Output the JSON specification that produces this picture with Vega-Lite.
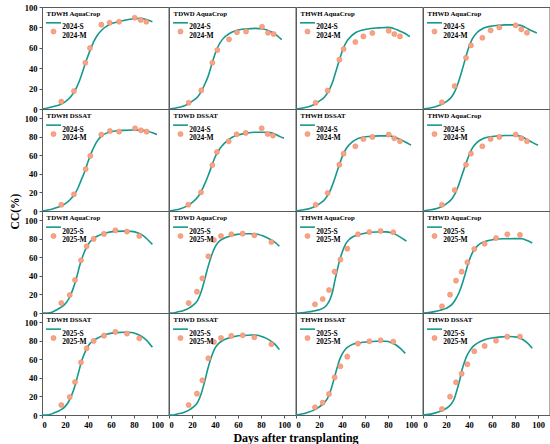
{
"$schema":"https://vega.github.io/schema/vega-lite/v6.json",
"background":"white",
"padding":{"left":8,"top":2,"right":2,"bottom":2},
"autosize":{"type":"pad"},
"bounds":"flush",
"spacing":0,
"columns":4,
"data":{"values":[
{"r":1,"c":1,"t":"T","name":"TDWH AquaCrop"},{"r":1,"c":2,"t":"T","name":"TDWD AquaCrop"},{"r":1,"c":3,"t":"T","name":"THWH AquaCrop"},{"r":1,"c":4,"t":"T","name":"THWD AquaCrop"},
{"r":2,"c":1,"t":"T","name":"TDWH DSSAT"},{"r":2,"c":2,"t":"T","name":"TDWD DSSAT"},{"r":2,"c":3,"t":"T","name":"THWH DSSAT"},{"r":2,"c":4,"t":"T","name":"THWD AquaCrop"},
{"r":3,"c":1,"t":"T","name":"TDWH AquaCrop"},{"r":3,"c":2,"t":"T","name":"TDWD AquaCrop"},{"r":3,"c":3,"t":"T","name":"THWH AquaCrop"},{"r":3,"c":4,"t":"T","name":"THWD AquaCrop"},
{"r":4,"c":1,"t":"T","name":"TDWH DSSAT"},{"r":4,"c":2,"t":"T","name":"TDWD DSSAT"},{"r":4,"c":3,"t":"T","name":"THWH DSSAT"},{"r":4,"c":4,"t":"T","name":"THWD DSSAT"},

{"r":1,"c":1,"t":"M","x":16.8,"y":7.2},{"r":1,"c":1,"t":"M","x":27.8,"y":17.6},{"r":1,"c":1,"t":"M","x":37.7,"y":45.4},{"r":1,"c":1,"t":"M","x":41.7,"y":59.8},{"r":1,"c":1,"t":"M","x":51.6,"y":82.7},{"r":1,"c":1,"t":"M","x":58.8,"y":84.6},{"r":1,"c":1,"t":"M","x":67,"y":85.6},{"r":1,"c":1,"t":"M","x":80.6,"y":89.5},{"r":1,"c":1,"t":"M","x":85.8,"y":87.3},{"r":1,"c":1,"t":"M","x":90.7,"y":85.6},
{"r":1,"c":2,"t":"M","x":17.1,"y":6.2},{"r":1,"c":2,"t":"M","x":28.1,"y":18.3},{"r":1,"c":2,"t":"M","x":37.7,"y":45.4},{"r":1,"c":2,"t":"M","x":42,"y":57.8},{"r":1,"c":2,"t":"M","x":52.2,"y":68.3},{"r":1,"c":2,"t":"M","x":59.1,"y":75.2},{"r":1,"c":2,"t":"M","x":67,"y":76.1},{"r":1,"c":2,"t":"M","x":80.9,"y":80.7},{"r":1,"c":2,"t":"M","x":86.1,"y":74.8},{"r":1,"c":2,"t":"M","x":91,"y":73.5},
{"r":1,"c":3,"t":"M","x":17.1,"y":6.2},{"r":1,"c":3,"t":"M","x":27.5,"y":18},{"r":1,"c":3,"t":"M","x":37.7,"y":48.4},{"r":1,"c":3,"t":"M","x":41.4,"y":58.8},{"r":1,"c":3,"t":"M","x":51.6,"y":65.7},{"r":1,"c":3,"t":"M","x":58.6,"y":71.2},{"r":1,"c":3,"t":"M","x":66.4,"y":74.5},{"r":1,"c":3,"t":"M","x":80.6,"y":76.8},{"r":1,"c":3,"t":"M","x":85.5,"y":73.5},{"r":1,"c":3,"t":"M","x":90.4,"y":71.2},
{"r":1,"c":4,"t":"M","x":16.5,"y":6.5},{"r":1,"c":4,"t":"M","x":27.5,"y":22.5},{"r":1,"c":4,"t":"M","x":37.4,"y":50.3},{"r":1,"c":4,"t":"M","x":41.7,"y":62.4},{"r":1,"c":4,"t":"M","x":51.6,"y":69.9},{"r":1,"c":4,"t":"M","x":58.8,"y":77.1},{"r":1,"c":4,"t":"M","x":66.4,"y":80},{"r":1,"c":4,"t":"M","x":80.6,"y":82},{"r":1,"c":4,"t":"M","x":85.5,"y":78.1},{"r":1,"c":4,"t":"M","x":90.4,"y":74.8},

{"r":2,"c":1,"t":"M","x":16.8,"y":6.8},{"r":2,"c":1,"t":"M","x":27.8,"y":18},{"r":2,"c":1,"t":"M","x":38,"y":45.3},{"r":2,"c":1,"t":"M","x":42,"y":59.4},{"r":2,"c":1,"t":"M","x":51.6,"y":82.4},{"r":2,"c":1,"t":"M","x":59.1,"y":86.3},{"r":2,"c":1,"t":"M","x":67,"y":85.6},{"r":2,"c":1,"t":"M","x":80.9,"y":89.2},{"r":2,"c":1,"t":"M","x":86.1,"y":87},{"r":2,"c":1,"t":"M","x":91,"y":85.6},
{"r":2,"c":2,"t":"M","x":16.8,"y":6.8},{"r":2,"c":2,"t":"M","x":27.8,"y":20.1},{"r":2,"c":2,"t":"M","x":37.7,"y":49.6},{"r":2,"c":2,"t":"M","x":41.7,"y":63.7},{"r":2,"c":2,"t":"M","x":51.9,"y":75.2},{"r":2,"c":2,"t":"M","x":58.8,"y":82.7},{"r":2,"c":2,"t":"M","x":66.7,"y":84.2},{"r":2,"c":2,"t":"M","x":80.6,"y":89.2},{"r":2,"c":2,"t":"M","x":85.8,"y":83.1},{"r":2,"c":2,"t":"M","x":90.4,"y":81.3},
{"r":2,"c":3,"t":"M","x":17.1,"y":6.8},{"r":2,"c":3,"t":"M","x":27.5,"y":19.4},{"r":2,"c":3,"t":"M","x":37.7,"y":50},{"r":2,"c":3,"t":"M","x":41.4,"y":61.9},{"r":2,"c":3,"t":"M","x":51.6,"y":69.8},{"r":2,"c":3,"t":"M","x":58.6,"y":77.7},{"r":2,"c":3,"t":"M","x":66.4,"y":79.9},{"r":2,"c":3,"t":"M","x":80.6,"y":82.4},{"r":2,"c":3,"t":"M","x":85.5,"y":78.4},{"r":2,"c":3,"t":"M","x":90.4,"y":75.2},
{"r":2,"c":4,"t":"M","x":16.5,"y":6.8},{"r":2,"c":4,"t":"M","x":27.5,"y":22.7},{"r":2,"c":4,"t":"M","x":37.4,"y":50},{"r":2,"c":4,"t":"M","x":41.7,"y":61.9},{"r":2,"c":4,"t":"M","x":51.6,"y":69.8},{"r":2,"c":4,"t":"M","x":58.8,"y":77.7},{"r":2,"c":4,"t":"M","x":66.4,"y":79.9},{"r":2,"c":4,"t":"M","x":80.6,"y":82.4},{"r":2,"c":4,"t":"M","x":85.5,"y":78.4},{"r":2,"c":4,"t":"M","x":90.4,"y":75.2},

{"r":3,"c":1,"t":"M","x":16.8,"y":10.8},{"r":3,"c":1,"t":"M","x":24.1,"y":19.4},{"r":3,"c":1,"t":"M","x":28.7,"y":35.6},{"r":3,"c":1,"t":"M","x":33.9,"y":56.8},{"r":3,"c":1,"t":"M","x":38.8,"y":71.9},{"r":3,"c":1,"t":"M","x":44.9,"y":79.9},{"r":3,"c":1,"t":"M","x":53.9,"y":85.3},{"r":3,"c":1,"t":"M","x":63.8,"y":89.2},{"r":3,"c":1,"t":"M","x":73.9,"y":87.8},{"r":3,"c":1,"t":"M","x":84.6,"y":83.1},
{"r":3,"c":2,"t":"M","x":17.1,"y":10.8},{"r":3,"c":2,"t":"M","x":24.3,"y":23},{"r":3,"c":2,"t":"M","x":29,"y":37.4},{"r":3,"c":2,"t":"M","x":34.2,"y":61.2},{"r":3,"c":2,"t":"M","x":39.1,"y":78.8},{"r":3,"c":2,"t":"M","x":45.2,"y":83.1},{"r":3,"c":2,"t":"M","x":54.2,"y":84.9},{"r":3,"c":2,"t":"M","x":64.1,"y":85.6},{"r":3,"c":2,"t":"M","x":74.2,"y":83.8},{"r":3,"c":2,"t":"M","x":89,"y":76.6},
{"r":3,"c":3,"t":"M","x":16.5,"y":9.4},{"r":3,"c":3,"t":"M","x":23.2,"y":15.1},{"r":3,"c":3,"t":"M","x":28.7,"y":24.8},{"r":3,"c":3,"t":"M","x":33.6,"y":44.6},{"r":3,"c":3,"t":"M","x":38.6,"y":57.6},{"r":3,"c":3,"t":"M","x":44.6,"y":69.4},{"r":3,"c":3,"t":"M","x":53.9,"y":84.9},{"r":3,"c":3,"t":"M","x":63.8,"y":87.4},{"r":3,"c":3,"t":"M","x":73.6,"y":88.5},{"r":3,"c":3,"t":"M","x":84.6,"y":87.1},
{"r":3,"c":4,"t":"M","x":16.5,"y":7.2},{"r":3,"c":4,"t":"M","x":23.5,"y":19.8},{"r":3,"c":4,"t":"M","x":28.7,"y":34.9},{"r":3,"c":4,"t":"M","x":33.6,"y":44.6},{"r":3,"c":4,"t":"M","x":38.6,"y":54.7},{"r":3,"c":4,"t":"M","x":44.6,"y":69.1},{"r":3,"c":4,"t":"M","x":53.6,"y":74.8},{"r":3,"c":4,"t":"M","x":63.5,"y":80.9},{"r":3,"c":4,"t":"M","x":73.3,"y":84.9},{"r":3,"c":4,"t":"M","x":84.3,"y":84.2},

{"r":4,"c":1,"t":"M","x":16.8,"y":10.8},{"r":4,"c":1,"t":"M","x":24.1,"y":19.4},{"r":4,"c":1,"t":"M","x":28.7,"y":35.6},{"r":4,"c":1,"t":"M","x":33.9,"y":56.8},{"r":4,"c":1,"t":"M","x":38.8,"y":71.9},{"r":4,"c":1,"t":"M","x":44.9,"y":79.9},{"r":4,"c":1,"t":"M","x":53.9,"y":85.6},{"r":4,"c":1,"t":"M","x":63.8,"y":89.6},{"r":4,"c":1,"t":"M","x":73.9,"y":87.8},{"r":4,"c":1,"t":"M","x":84.6,"y":82.7},
{"r":4,"c":2,"t":"M","x":17.1,"y":10.8},{"r":4,"c":2,"t":"M","x":24.3,"y":23},{"r":4,"c":2,"t":"M","x":29,"y":37.4},{"r":4,"c":2,"t":"M","x":34.2,"y":61.2},{"r":4,"c":2,"t":"M","x":39.1,"y":78.8},{"r":4,"c":2,"t":"M","x":45.2,"y":83.1},{"r":4,"c":2,"t":"M","x":54.2,"y":85.3},{"r":4,"c":2,"t":"M","x":64.1,"y":86},{"r":4,"c":2,"t":"M","x":74.2,"y":83.8},{"r":4,"c":2,"t":"M","x":89,"y":76.3},
{"r":4,"c":3,"t":"M","x":16.5,"y":8.3},{"r":4,"c":3,"t":"M","x":23.2,"y":13.3},{"r":4,"c":3,"t":"M","x":28.7,"y":22.7},{"r":4,"c":3,"t":"M","x":33.6,"y":40.6},{"r":4,"c":3,"t":"M","x":38.6,"y":52.5},{"r":4,"c":3,"t":"M","x":44.6,"y":62.9},{"r":4,"c":3,"t":"M","x":53.9,"y":77},{"r":4,"c":3,"t":"M","x":63.8,"y":79.5},{"r":4,"c":3,"t":"M","x":73.6,"y":80.6},{"r":4,"c":3,"t":"M","x":84.6,"y":79.1},
{"r":4,"c":4,"t":"M","x":16.5,"y":6.5},{"r":4,"c":4,"t":"M","x":23.5,"y":19.8},{"r":4,"c":4,"t":"M","x":28.7,"y":35.3},{"r":4,"c":4,"t":"M","x":33.6,"y":44.6},{"r":4,"c":4,"t":"M","x":38.6,"y":54.7},{"r":4,"c":4,"t":"M","x":44.6,"y":68.7},{"r":4,"c":4,"t":"M","x":53.6,"y":74.5},{"r":4,"c":4,"t":"M","x":63.5,"y":80.2},{"r":4,"c":4,"t":"M","x":73.3,"y":84.5},{"r":4,"c":4,"t":"M","x":84.3,"y":84.5},

{"r":1,"c":1,"t":"S","x":0,"y":0},{"r":1,"c":1,"t":"S","x":5,"y":1},{"r":1,"c":1,"t":"S","x":10,"y":2.5},{"r":1,"c":1,"t":"S","x":15,"y":4},{"r":1,"c":1,"t":"S","x":20,"y":7},{"r":1,"c":1,"t":"S","x":25,"y":12},{"r":1,"c":1,"t":"S","x":30,"y":21},{"r":1,"c":1,"t":"S","x":33,"y":29},{"r":1,"c":1,"t":"S","x":36,"y":39},{"r":1,"c":1,"t":"S","x":39,"y":49},{"r":1,"c":1,"t":"S","x":42,"y":58},{"r":1,"c":1,"t":"S","x":45,"y":66},{"r":1,"c":1,"t":"S","x":48,"y":72},{"r":1,"c":1,"t":"S","x":52,"y":77.5},{"r":1,"c":1,"t":"S","x":56,"y":81},{"r":1,"c":1,"t":"S","x":60,"y":83.5},{"r":1,"c":1,"t":"S","x":66,"y":85.5},{"r":1,"c":1,"t":"S","x":72,"y":87},{"r":1,"c":1,"t":"S","x":80,"y":88.5},{"r":1,"c":1,"t":"S","x":86,"y":89},{"r":1,"c":1,"t":"S","x":90,"y":88},{"r":1,"c":1,"t":"S","x":94,"y":86.5},{"r":1,"c":1,"t":"S","x":96,"y":85.5},
{"r":1,"c":2,"t":"S","x":0,"y":0},{"r":1,"c":2,"t":"S","x":5,"y":0.8},{"r":1,"c":2,"t":"S","x":10,"y":2},{"r":1,"c":2,"t":"S","x":15,"y":4},{"r":1,"c":2,"t":"S","x":20,"y":7.5},{"r":1,"c":2,"t":"S","x":25,"y":12},{"r":1,"c":2,"t":"S","x":28,"y":17},{"r":1,"c":2,"t":"S","x":31,"y":24},{"r":1,"c":2,"t":"S","x":34,"y":32},{"r":1,"c":2,"t":"S","x":37,"y":43},{"r":1,"c":2,"t":"S","x":40,"y":54},{"r":1,"c":2,"t":"S","x":43,"y":62},{"r":1,"c":2,"t":"S","x":46,"y":67.5},{"r":1,"c":2,"t":"S","x":50,"y":72},{"r":1,"c":2,"t":"S","x":55,"y":75.5},{"r":1,"c":2,"t":"S","x":60,"y":77.5},{"r":1,"c":2,"t":"S","x":67,"y":78.5},{"r":1,"c":2,"t":"S","x":75,"y":79},{"r":1,"c":2,"t":"S","x":82,"y":78.5},{"r":1,"c":2,"t":"S","x":86,"y":77},{"r":1,"c":2,"t":"S","x":90,"y":75},{"r":1,"c":2,"t":"S","x":94,"y":72},{"r":1,"c":2,"t":"S","x":98,"y":68},
{"r":1,"c":3,"t":"S","x":0,"y":0},{"r":1,"c":3,"t":"S","x":5,"y":0.8},{"r":1,"c":3,"t":"S","x":10,"y":2},{"r":1,"c":3,"t":"S","x":15,"y":4},{"r":1,"c":3,"t":"S","x":20,"y":7.5},{"r":1,"c":3,"t":"S","x":25,"y":12},{"r":1,"c":3,"t":"S","x":29,"y":19},{"r":1,"c":3,"t":"S","x":32,"y":27},{"r":1,"c":3,"t":"S","x":35,"y":38},{"r":1,"c":3,"t":"S","x":38,"y":49},{"r":1,"c":3,"t":"S","x":41,"y":59},{"r":1,"c":3,"t":"S","x":44,"y":66},{"r":1,"c":3,"t":"S","x":48,"y":71.5},{"r":1,"c":3,"t":"S","x":52,"y":75},{"r":1,"c":3,"t":"S","x":58,"y":77.5},{"r":1,"c":3,"t":"S","x":65,"y":79},{"r":1,"c":3,"t":"S","x":72,"y":79.5},{"r":1,"c":3,"t":"S","x":80,"y":80},{"r":1,"c":3,"t":"S","x":85,"y":79},{"r":1,"c":3,"t":"S","x":90,"y":76.5},{"r":1,"c":3,"t":"S","x":95,"y":74},{"r":1,"c":3,"t":"S","x":99,"y":71},
{"r":1,"c":4,"t":"S","x":0,"y":0},{"r":1,"c":4,"t":"S","x":5,"y":0.8},{"r":1,"c":4,"t":"S","x":10,"y":2},{"r":1,"c":4,"t":"S","x":15,"y":4},{"r":1,"c":4,"t":"S","x":20,"y":7},{"r":1,"c":4,"t":"S","x":25,"y":12},{"r":1,"c":4,"t":"S","x":28,"y":18},{"r":1,"c":4,"t":"S","x":31,"y":27},{"r":1,"c":4,"t":"S","x":34,"y":38},{"r":1,"c":4,"t":"S","x":37,"y":50},{"r":1,"c":4,"t":"S","x":40,"y":61},{"r":1,"c":4,"t":"S","x":43,"y":69},{"r":1,"c":4,"t":"S","x":47,"y":75},{"r":1,"c":4,"t":"S","x":52,"y":79},{"r":1,"c":4,"t":"S","x":58,"y":81},{"r":1,"c":4,"t":"S","x":65,"y":82},{"r":1,"c":4,"t":"S","x":72,"y":82.5},{"r":1,"c":4,"t":"S","x":80,"y":82.5},{"r":1,"c":4,"t":"S","x":85,"y":82},{"r":1,"c":4,"t":"S","x":89,"y":80},{"r":1,"c":4,"t":"S","x":94,"y":77},{"r":1,"c":4,"t":"S","x":99,"y":74.5},

{"r":2,"c":1,"t":"S","x":0,"y":0},{"r":2,"c":1,"t":"S","x":5,"y":1},{"r":2,"c":1,"t":"S","x":10,"y":2.5},{"r":2,"c":1,"t":"S","x":15,"y":4.5},{"r":2,"c":1,"t":"S","x":20,"y":7.6},{"r":2,"c":1,"t":"S","x":25,"y":13},{"r":2,"c":1,"t":"S","x":28,"y":17.5},{"r":2,"c":1,"t":"S","x":31,"y":24},{"r":2,"c":1,"t":"S","x":34,"y":33},{"r":2,"c":1,"t":"S","x":37,"y":42},{"r":2,"c":1,"t":"S","x":40,"y":53},{"r":2,"c":1,"t":"S","x":43,"y":63},{"r":2,"c":1,"t":"S","x":46,"y":71},{"r":2,"c":1,"t":"S","x":49,"y":77},{"r":2,"c":1,"t":"S","x":52,"y":81},{"r":2,"c":1,"t":"S","x":56,"y":84},{"r":2,"c":1,"t":"S","x":62,"y":86},{"r":2,"c":1,"t":"S","x":70,"y":87},{"r":2,"c":1,"t":"S","x":80,"y":87.3},{"r":2,"c":1,"t":"S","x":87,"y":87},{"r":2,"c":1,"t":"S","x":92,"y":86},{"r":2,"c":1,"t":"S","x":96,"y":84.5},{"r":2,"c":1,"t":"S","x":100,"y":82.4},
{"r":2,"c":2,"t":"S","x":0,"y":0},{"r":2,"c":2,"t":"S","x":5,"y":1},{"r":2,"c":2,"t":"S","x":10,"y":2.5},{"r":2,"c":2,"t":"S","x":15,"y":5},{"r":2,"c":2,"t":"S","x":20,"y":9},{"r":2,"c":2,"t":"S","x":25,"y":15},{"r":2,"c":2,"t":"S","x":28,"y":21},{"r":2,"c":2,"t":"S","x":31,"y":29},{"r":2,"c":2,"t":"S","x":34,"y":38},{"r":2,"c":2,"t":"S","x":37,"y":48},{"r":2,"c":2,"t":"S","x":40,"y":58},{"r":2,"c":2,"t":"S","x":43,"y":65},{"r":2,"c":2,"t":"S","x":46,"y":70},{"r":2,"c":2,"t":"S","x":50,"y":75},{"r":2,"c":2,"t":"S","x":55,"y":79.5},{"r":2,"c":2,"t":"S","x":60,"y":82},{"r":2,"c":2,"t":"S","x":67,"y":84},{"r":2,"c":2,"t":"S","x":75,"y":85},{"r":2,"c":2,"t":"S","x":82,"y":85},{"r":2,"c":2,"t":"S","x":88,"y":84.5},{"r":2,"c":2,"t":"S","x":92,"y":83},{"r":2,"c":2,"t":"S","x":96,"y":80.5},{"r":2,"c":2,"t":"S","x":100,"y":78.5},
{"r":2,"c":3,"t":"S","x":0,"y":0},{"r":2,"c":3,"t":"S","x":5,"y":1},{"r":2,"c":3,"t":"S","x":10,"y":2},{"r":2,"c":3,"t":"S","x":15,"y":4},{"r":2,"c":3,"t":"S","x":20,"y":7.5},{"r":2,"c":3,"t":"S","x":25,"y":12.5},{"r":2,"c":3,"t":"S","x":29,"y":20},{"r":2,"c":3,"t":"S","x":32,"y":29},{"r":2,"c":3,"t":"S","x":35,"y":40},{"r":2,"c":3,"t":"S","x":38,"y":51},{"r":2,"c":3,"t":"S","x":41,"y":61},{"r":2,"c":3,"t":"S","x":44,"y":68},{"r":2,"c":3,"t":"S","x":48,"y":73.5},{"r":2,"c":3,"t":"S","x":52,"y":77},{"r":2,"c":3,"t":"S","x":58,"y":79.5},{"r":2,"c":3,"t":"S","x":65,"y":80.5},{"r":2,"c":3,"t":"S","x":72,"y":81},{"r":2,"c":3,"t":"S","x":80,"y":81},{"r":2,"c":3,"t":"S","x":85,"y":80},{"r":2,"c":3,"t":"S","x":90,"y":77.5},{"r":2,"c":3,"t":"S","x":95,"y":74.5},{"r":2,"c":3,"t":"S","x":100,"y":71},
{"r":2,"c":4,"t":"S","x":0,"y":0},{"r":2,"c":4,"t":"S","x":5,"y":1},{"r":2,"c":4,"t":"S","x":10,"y":2},{"r":2,"c":4,"t":"S","x":15,"y":4},{"r":2,"c":4,"t":"S","x":20,"y":7.5},{"r":2,"c":4,"t":"S","x":25,"y":13},{"r":2,"c":4,"t":"S","x":28,"y":19},{"r":2,"c":4,"t":"S","x":31,"y":28},{"r":2,"c":4,"t":"S","x":34,"y":39},{"r":2,"c":4,"t":"S","x":37,"y":50},{"r":2,"c":4,"t":"S","x":40,"y":60},{"r":2,"c":4,"t":"S","x":43,"y":68},{"r":2,"c":4,"t":"S","x":47,"y":74},{"r":2,"c":4,"t":"S","x":52,"y":78},{"r":2,"c":4,"t":"S","x":58,"y":80},{"r":2,"c":4,"t":"S","x":65,"y":81},{"r":2,"c":4,"t":"S","x":72,"y":81.5},{"r":2,"c":4,"t":"S","x":80,"y":81.5},{"r":2,"c":4,"t":"S","x":85,"y":80.5},{"r":2,"c":4,"t":"S","x":90,"y":77.5},{"r":2,"c":4,"t":"S","x":95,"y":74},{"r":2,"c":4,"t":"S","x":100,"y":71},

{"r":3,"c":1,"t":"S","x":0,"y":0},{"r":3,"c":1,"t":"S","x":5,"y":0},{"r":3,"c":1,"t":"S","x":8,"y":0.5},{"r":3,"c":1,"t":"S","x":12,"y":3},{"r":3,"c":1,"t":"S","x":17,"y":6.5},{"r":3,"c":1,"t":"S","x":21,"y":11},{"r":3,"c":1,"t":"S","x":24,"y":17},{"r":3,"c":1,"t":"S","x":27,"y":26},{"r":3,"c":1,"t":"S","x":30,"y":38},{"r":3,"c":1,"t":"S","x":33,"y":52},{"r":3,"c":1,"t":"S","x":36,"y":63},{"r":3,"c":1,"t":"S","x":39,"y":71.5},{"r":3,"c":1,"t":"S","x":42,"y":77},{"r":3,"c":1,"t":"S","x":46,"y":81.5},{"r":3,"c":1,"t":"S","x":50,"y":84},{"r":3,"c":1,"t":"S","x":56,"y":86.5},{"r":3,"c":1,"t":"S","x":64,"y":88},{"r":3,"c":1,"t":"S","x":72,"y":88.3},{"r":3,"c":1,"t":"S","x":78,"y":88},{"r":3,"c":1,"t":"S","x":84,"y":86},{"r":3,"c":1,"t":"S","x":88,"y":83.5},{"r":3,"c":1,"t":"S","x":92,"y":79},{"r":3,"c":1,"t":"S","x":96,"y":74},
{"r":3,"c":2,"t":"S","x":0,"y":0},{"r":3,"c":2,"t":"S","x":4,"y":0},{"r":3,"c":2,"t":"S","x":7,"y":1},{"r":3,"c":2,"t":"S","x":12,"y":2.5},{"r":3,"c":2,"t":"S","x":17,"y":5},{"r":3,"c":2,"t":"S","x":21,"y":8.5},{"r":3,"c":2,"t":"S","x":25,"y":14},{"r":3,"c":2,"t":"S","x":28,"y":23},{"r":3,"c":2,"t":"S","x":31,"y":36},{"r":3,"c":2,"t":"S","x":34,"y":50},{"r":3,"c":2,"t":"S","x":37,"y":62},{"r":3,"c":2,"t":"S","x":40,"y":71},{"r":3,"c":2,"t":"S","x":43,"y":76.5},{"r":3,"c":2,"t":"S","x":47,"y":80},{"r":3,"c":2,"t":"S","x":52,"y":82.5},{"r":3,"c":2,"t":"S","x":58,"y":84.5},{"r":3,"c":2,"t":"S","x":65,"y":85.5},{"r":3,"c":2,"t":"S","x":72,"y":85.5},{"r":3,"c":2,"t":"S","x":77,"y":85},{"r":3,"c":2,"t":"S","x":82,"y":83},{"r":3,"c":2,"t":"S","x":87,"y":80},{"r":3,"c":2,"t":"S","x":92,"y":76.5},{"r":3,"c":2,"t":"S","x":96,"y":72},
{"r":3,"c":3,"t":"S","x":0,"y":0},{"r":3,"c":3,"t":"S","x":5,"y":0.3},{"r":3,"c":3,"t":"S","x":10,"y":1},{"r":3,"c":3,"t":"S","x":15,"y":2},{"r":3,"c":3,"t":"S","x":20,"y":3.5},{"r":3,"c":3,"t":"S","x":24,"y":5.5},{"r":3,"c":3,"t":"S","x":27,"y":9},{"r":3,"c":3,"t":"S","x":30,"y":16},{"r":3,"c":3,"t":"S","x":32,"y":24},{"r":3,"c":3,"t":"S","x":34,"y":36},{"r":3,"c":3,"t":"S","x":36,"y":47},{"r":3,"c":3,"t":"S","x":38,"y":57},{"r":3,"c":3,"t":"S","x":40,"y":65},{"r":3,"c":3,"t":"S","x":43,"y":74},{"r":3,"c":3,"t":"S","x":46,"y":79},{"r":3,"c":3,"t":"S","x":50,"y":82.5},{"r":3,"c":3,"t":"S","x":56,"y":85},{"r":3,"c":3,"t":"S","x":62,"y":86.5},{"r":3,"c":3,"t":"S","x":70,"y":87.3},{"r":3,"c":3,"t":"S","x":78,"y":87.5},{"r":3,"c":3,"t":"S","x":83,"y":86.5},{"r":3,"c":3,"t":"S","x":87,"y":84.5},{"r":3,"c":3,"t":"S","x":91,"y":81.5},{"r":3,"c":3,"t":"S","x":96,"y":77.5},
{"r":3,"c":4,"t":"S","x":0,"y":0},{"r":3,"c":4,"t":"S","x":5,"y":0.5},{"r":3,"c":4,"t":"S","x":10,"y":1.5},{"r":3,"c":4,"t":"S","x":15,"y":3},{"r":3,"c":4,"t":"S","x":20,"y":5},{"r":3,"c":4,"t":"S","x":25,"y":9},{"r":3,"c":4,"t":"S","x":28,"y":14},{"r":3,"c":4,"t":"S","x":31,"y":21},{"r":3,"c":4,"t":"S","x":34,"y":31},{"r":3,"c":4,"t":"S","x":36,"y":39},{"r":3,"c":4,"t":"S","x":38,"y":48},{"r":3,"c":4,"t":"S","x":40,"y":56},{"r":3,"c":4,"t":"S","x":43,"y":65},{"r":3,"c":4,"t":"S","x":46,"y":70.5},{"r":3,"c":4,"t":"S","x":50,"y":75},{"r":3,"c":4,"t":"S","x":55,"y":77.5},{"r":3,"c":4,"t":"S","x":62,"y":79.3},{"r":3,"c":4,"t":"S","x":70,"y":80},{"r":3,"c":4,"t":"S","x":80,"y":80.2},{"r":3,"c":4,"t":"S","x":86,"y":80},{"r":3,"c":4,"t":"S","x":90,"y":78.5},{"r":3,"c":4,"t":"S","x":95,"y":75.5},

{"r":4,"c":1,"t":"S","x":0,"y":0},{"r":4,"c":1,"t":"S","x":4,"y":0},{"r":4,"c":1,"t":"S","x":7,"y":0.5},{"r":4,"c":1,"t":"S","x":10,"y":2},{"r":4,"c":1,"t":"S","x":14,"y":4},{"r":4,"c":1,"t":"S","x":17,"y":6},{"r":4,"c":1,"t":"S","x":20,"y":9},{"r":4,"c":1,"t":"S","x":23,"y":14},{"r":4,"c":1,"t":"S","x":26,"y":22},{"r":4,"c":1,"t":"S","x":29,"y":33},{"r":4,"c":1,"t":"S","x":32,"y":47},{"r":4,"c":1,"t":"S","x":35,"y":60},{"r":4,"c":1,"t":"S","x":38,"y":69.5},{"r":4,"c":1,"t":"S","x":41,"y":76},{"r":4,"c":1,"t":"S","x":45,"y":80.5},{"r":4,"c":1,"t":"S","x":50,"y":84},{"r":4,"c":1,"t":"S","x":56,"y":87},{"r":4,"c":1,"t":"S","x":64,"y":88.8},{"r":4,"c":1,"t":"S","x":72,"y":89.3},{"r":4,"c":1,"t":"S","x":78,"y":89},{"r":4,"c":1,"t":"S","x":83,"y":87},{"r":4,"c":1,"t":"S","x":87,"y":84.5},{"r":4,"c":1,"t":"S","x":91,"y":80.5},{"r":4,"c":1,"t":"S","x":96,"y":73},
{"r":4,"c":2,"t":"S","x":0,"y":0},{"r":4,"c":2,"t":"S","x":4,"y":0},{"r":4,"c":2,"t":"S","x":7,"y":1},{"r":4,"c":2,"t":"S","x":12,"y":2.5},{"r":4,"c":2,"t":"S","x":17,"y":5},{"r":4,"c":2,"t":"S","x":21,"y":8.5},{"r":4,"c":2,"t":"S","x":25,"y":14},{"r":4,"c":2,"t":"S","x":28,"y":23},{"r":4,"c":2,"t":"S","x":31,"y":36},{"r":4,"c":2,"t":"S","x":34,"y":51},{"r":4,"c":2,"t":"S","x":37,"y":63},{"r":4,"c":2,"t":"S","x":40,"y":72},{"r":4,"c":2,"t":"S","x":43,"y":77},{"r":4,"c":2,"t":"S","x":47,"y":80.5},{"r":4,"c":2,"t":"S","x":52,"y":83},{"r":4,"c":2,"t":"S","x":58,"y":85},{"r":4,"c":2,"t":"S","x":65,"y":85.8},{"r":4,"c":2,"t":"S","x":72,"y":86.2},{"r":4,"c":2,"t":"S","x":77,"y":86},{"r":4,"c":2,"t":"S","x":82,"y":84},{"r":4,"c":2,"t":"S","x":87,"y":81},{"r":4,"c":2,"t":"S","x":92,"y":76.5},{"r":4,"c":2,"t":"S","x":96,"y":70.5},
{"r":4,"c":3,"t":"S","x":0,"y":0},{"r":4,"c":3,"t":"S","x":5,"y":1},{"r":4,"c":3,"t":"S","x":10,"y":2.7},{"r":4,"c":3,"t":"S","x":15,"y":5},{"r":4,"c":3,"t":"S","x":20,"y":8.5},{"r":4,"c":3,"t":"S","x":24,"y":12.5},{"r":4,"c":3,"t":"S","x":27,"y":17},{"r":4,"c":3,"t":"S","x":30,"y":26},{"r":4,"c":3,"t":"S","x":32,"y":34},{"r":4,"c":3,"t":"S","x":34,"y":43},{"r":4,"c":3,"t":"S","x":36,"y":52},{"r":4,"c":3,"t":"S","x":38,"y":60},{"r":4,"c":3,"t":"S","x":40,"y":65.5},{"r":4,"c":3,"t":"S","x":43,"y":71},{"r":4,"c":3,"t":"S","x":46,"y":74},{"r":4,"c":3,"t":"S","x":50,"y":76.5},{"r":4,"c":3,"t":"S","x":56,"y":78},{"r":4,"c":3,"t":"S","x":62,"y":78.8},{"r":4,"c":3,"t":"S","x":70,"y":79.5},{"r":4,"c":3,"t":"S","x":78,"y":79.5},{"r":4,"c":3,"t":"S","x":83,"y":78},{"r":4,"c":3,"t":"S","x":87,"y":75.5},{"r":4,"c":3,"t":"S","x":91,"y":71.5},{"r":4,"c":3,"t":"S","x":95,"y":66.5},
{"r":4,"c":4,"t":"S","x":0,"y":0},{"r":4,"c":4,"t":"S","x":5,"y":0.7},{"r":4,"c":4,"t":"S","x":10,"y":2},{"r":4,"c":4,"t":"S","x":15,"y":4},{"r":4,"c":4,"t":"S","x":20,"y":7},{"r":4,"c":4,"t":"S","x":24,"y":11},{"r":4,"c":4,"t":"S","x":27,"y":17},{"r":4,"c":4,"t":"S","x":30,"y":29},{"r":4,"c":4,"t":"S","x":32,"y":38},{"r":4,"c":4,"t":"S","x":34,"y":49},{"r":4,"c":4,"t":"S","x":36,"y":57},{"r":4,"c":4,"t":"S","x":38,"y":63.5},{"r":4,"c":4,"t":"S","x":41,"y":70},{"r":4,"c":4,"t":"S","x":44,"y":74.5},{"r":4,"c":4,"t":"S","x":48,"y":78},{"r":4,"c":4,"t":"S","x":53,"y":81},{"r":4,"c":4,"t":"S","x":60,"y":83},{"r":4,"c":4,"t":"S","x":68,"y":84.3},{"r":4,"c":4,"t":"S","x":75,"y":84.6},{"r":4,"c":4,"t":"S","x":82,"y":84},{"r":4,"c":4,"t":"S","x":86,"y":82},{"r":4,"c":4,"t":"S","x":90,"y":78.5},{"r":4,"c":4,"t":"S","x":95,"y":72}
]},
"concat":[
{"transform":[{"filter":"datum.r==1 && datum.c==1"}],"width":126.5,"height":102,"layer":[
 {"transform":[{"filter":"datum.t=='S'"}],"mark":"line","encoding":{"x":{"field":"x","type":"quantitative","scale":{"domain":[0,110],"nice":false},"axis":null},"y":{"field":"y","type":"quantitative","scale":{"domain":[0,100],"nice":false},"axis":{"title":null,"values":[0,20,40,60,80,100]}}}},
 {"transform":[{"filter":"datum.t=='M'"}],"mark":"circle","encoding":{"x":{"field":"x","type":"quantitative","axis":null},"y":{"field":"y","type":"quantitative","axis":{"title":null,"values":[0,20,40,60,80,100]}}}},
 {"transform":[{"filter":"datum.t=='T'"}],"mark":{"type":"text","fontSize":6.8},"encoding":{"x":{"datum":4,"axis":null},"y":{"datum":93,"axis":{"title":null,"values":[0,20,40,60,80,100]}},"text":{"field":"name"}}},
 {"transform":[{"filter":"datum.t=='T'"}],"mark":"rule","encoding":{"x":{"datum":3.5,"axis":null},"x2":{"datum":16.5},"y":{"datum":84.5,"axis":{"title":null,"values":[0,20,40,60,80,100]}}}},
 {"transform":[{"filter":"datum.t=='T'"}],"mark":"circle","encoding":{"x":{"datum":10,"axis":null},"y":{"datum":76,"axis":{"title":null,"values":[0,20,40,60,80,100]}}}},
 {"transform":[{"filter":"datum.t=='T'"}],"mark":{"type":"text","text":["2024-S","2024-M"],"lineHeight":8.7},"encoding":{"x":{"datum":17.5,"axis":null},"y":{"datum":80.25,"axis":{"title":null,"values":[0,20,40,60,80,100]}}}}
]},
{"transform":[{"filter":"datum.r==1 && datum.c==2"}],"width":126.5,"height":102,"layer":[
 {"transform":[{"filter":"datum.t=='S'"}],"mark":"line","encoding":{"x":{"field":"x","type":"quantitative","scale":{"domain":[0,110],"nice":false},"axis":null},"y":{"field":"y","type":"quantitative","scale":{"domain":[0,100],"nice":false},"axis":null}}},
 {"transform":[{"filter":"datum.t=='M'"}],"mark":"circle","encoding":{"x":{"field":"x","type":"quantitative","axis":null},"y":{"field":"y","type":"quantitative","axis":null}}},
 {"transform":[{"filter":"datum.t=='T'"}],"mark":{"type":"text","fontSize":6.8},"encoding":{"x":{"datum":4,"axis":null},"y":{"datum":93,"axis":null},"text":{"field":"name"}}},
 {"transform":[{"filter":"datum.t=='T'"}],"mark":"rule","encoding":{"x":{"datum":3.5,"axis":null},"x2":{"datum":16.5},"y":{"datum":84.5,"axis":null}}},
 {"transform":[{"filter":"datum.t=='T'"}],"mark":"circle","encoding":{"x":{"datum":10,"axis":null},"y":{"datum":76,"axis":null}}},
 {"transform":[{"filter":"datum.t=='T'"}],"mark":{"type":"text","text":["2024-S","2024-M"],"lineHeight":8.7},"encoding":{"x":{"datum":17.5,"axis":null},"y":{"datum":80.25,"axis":null}}}
]},
{"transform":[{"filter":"datum.r==1 && datum.c==3"}],"width":126.5,"height":102,"layer":[
 {"transform":[{"filter":"datum.t=='S'"}],"mark":"line","encoding":{"x":{"field":"x","type":"quantitative","scale":{"domain":[0,110],"nice":false},"axis":null},"y":{"field":"y","type":"quantitative","scale":{"domain":[0,100],"nice":false},"axis":null}}},
 {"transform":[{"filter":"datum.t=='M'"}],"mark":"circle","encoding":{"x":{"field":"x","type":"quantitative","axis":null},"y":{"field":"y","type":"quantitative","axis":null}}},
 {"transform":[{"filter":"datum.t=='T'"}],"mark":{"type":"text","fontSize":6.8},"encoding":{"x":{"datum":4,"axis":null},"y":{"datum":93,"axis":null},"text":{"field":"name"}}},
 {"transform":[{"filter":"datum.t=='T'"}],"mark":"rule","encoding":{"x":{"datum":3.5,"axis":null},"x2":{"datum":16.5},"y":{"datum":84.5,"axis":null}}},
 {"transform":[{"filter":"datum.t=='T'"}],"mark":"circle","encoding":{"x":{"datum":10,"axis":null},"y":{"datum":76,"axis":null}}},
 {"transform":[{"filter":"datum.t=='T'"}],"mark":{"type":"text","text":["2024-S","2024-M"],"lineHeight":8.7},"encoding":{"x":{"datum":17.5,"axis":null},"y":{"datum":80.25,"axis":null}}}
]},
{"transform":[{"filter":"datum.r==1 && datum.c==4"}],"width":126.5,"height":102,"layer":[
 {"transform":[{"filter":"datum.t=='S'"}],"mark":"line","encoding":{"x":{"field":"x","type":"quantitative","scale":{"domain":[0,110],"nice":false},"axis":null},"y":{"field":"y","type":"quantitative","scale":{"domain":[0,100],"nice":false},"axis":null}}},
 {"transform":[{"filter":"datum.t=='M'"}],"mark":"circle","encoding":{"x":{"field":"x","type":"quantitative","axis":null},"y":{"field":"y","type":"quantitative","axis":null}}},
 {"transform":[{"filter":"datum.t=='T'"}],"mark":{"type":"text","fontSize":6.8},"encoding":{"x":{"datum":4,"axis":null},"y":{"datum":93,"axis":null},"text":{"field":"name"}}},
 {"transform":[{"filter":"datum.t=='T'"}],"mark":"rule","encoding":{"x":{"datum":3.5,"axis":null},"x2":{"datum":16.5},"y":{"datum":84.5,"axis":null}}},
 {"transform":[{"filter":"datum.t=='T'"}],"mark":"circle","encoding":{"x":{"datum":10,"axis":null},"y":{"datum":76,"axis":null}}},
 {"transform":[{"filter":"datum.t=='T'"}],"mark":{"type":"text","text":["2024-S","2024-M"],"lineHeight":8.7},"encoding":{"x":{"datum":17.5,"axis":null},"y":{"datum":80.25,"axis":null}}}
]},
{"transform":[{"filter":"datum.r==2 && datum.c==1"}],"width":126.5,"height":102,"layer":[
 {"transform":[{"filter":"datum.t=='S'"}],"mark":"line","encoding":{"x":{"field":"x","type":"quantitative","scale":{"domain":[0,110],"nice":false},"axis":null},"y":{"field":"y","type":"quantitative","scale":{"domain":[0,110],"nice":false},"axis":{"title":"CC(%)","titleY":102,"values":[0,20,40,60,80,100]}}}},
 {"transform":[{"filter":"datum.t=='M'"}],"mark":"circle","encoding":{"x":{"field":"x","type":"quantitative","axis":null},"y":{"field":"y","type":"quantitative","axis":{"title":"CC(%)","titleY":102,"values":[0,20,40,60,80,100]}}}},
 {"transform":[{"filter":"datum.t=='T'"}],"mark":{"type":"text","fontSize":6.8},"encoding":{"x":{"datum":4,"axis":null},"y":{"datum":102.5,"axis":{"title":"CC(%)","titleY":102,"values":[0,20,40,60,80,100]}},"text":{"field":"name"}}},
 {"transform":[{"filter":"datum.t=='T'"}],"mark":"rule","encoding":{"x":{"datum":3.5,"axis":null},"x2":{"datum":16.5},"y":{"datum":92.6,"axis":{"title":"CC(%)","titleY":102,"values":[0,20,40,60,80,100]}}}},
 {"transform":[{"filter":"datum.t=='T'"}],"mark":"circle","encoding":{"x":{"datum":10,"axis":null},"y":{"datum":83,"axis":{"title":"CC(%)","titleY":102,"values":[0,20,40,60,80,100]}}}},
 {"transform":[{"filter":"datum.t=='T'"}],"mark":{"type":"text","text":["2024-S","2024-M"],"lineHeight":8.9},"encoding":{"x":{"datum":17.5,"axis":null},"y":{"datum":87.8,"axis":{"title":"CC(%)","titleY":102,"values":[0,20,40,60,80,100]}}}}
]},
{"transform":[{"filter":"datum.r==2 && datum.c==2"}],"width":126.5,"height":102,"layer":[
 {"transform":[{"filter":"datum.t=='S'"}],"mark":"line","encoding":{"x":{"field":"x","type":"quantitative","scale":{"domain":[0,110],"nice":false},"axis":null},"y":{"field":"y","type":"quantitative","scale":{"domain":[0,110],"nice":false},"axis":null}}},
 {"transform":[{"filter":"datum.t=='M'"}],"mark":"circle","encoding":{"x":{"field":"x","type":"quantitative","axis":null},"y":{"field":"y","type":"quantitative","axis":null}}},
 {"transform":[{"filter":"datum.t=='T'"}],"mark":{"type":"text","fontSize":6.8},"encoding":{"x":{"datum":4,"axis":null},"y":{"datum":102.5,"axis":null},"text":{"field":"name"}}},
 {"transform":[{"filter":"datum.t=='T'"}],"mark":"rule","encoding":{"x":{"datum":3.5,"axis":null},"x2":{"datum":16.5},"y":{"datum":92.6,"axis":null}}},
 {"transform":[{"filter":"datum.t=='T'"}],"mark":"circle","encoding":{"x":{"datum":10,"axis":null},"y":{"datum":83,"axis":null}}},
 {"transform":[{"filter":"datum.t=='T'"}],"mark":{"type":"text","text":["2024-S","2024-M"],"lineHeight":8.9},"encoding":{"x":{"datum":17.5,"axis":null},"y":{"datum":87.8,"axis":null}}}
]},
{"transform":[{"filter":"datum.r==2 && datum.c==3"}],"width":126.5,"height":102,"layer":[
 {"transform":[{"filter":"datum.t=='S'"}],"mark":"line","encoding":{"x":{"field":"x","type":"quantitative","scale":{"domain":[0,110],"nice":false},"axis":null},"y":{"field":"y","type":"quantitative","scale":{"domain":[0,110],"nice":false},"axis":null}}},
 {"transform":[{"filter":"datum.t=='M'"}],"mark":"circle","encoding":{"x":{"field":"x","type":"quantitative","axis":null},"y":{"field":"y","type":"quantitative","axis":null}}},
 {"transform":[{"filter":"datum.t=='T'"}],"mark":{"type":"text","fontSize":6.8},"encoding":{"x":{"datum":4,"axis":null},"y":{"datum":102.5,"axis":null},"text":{"field":"name"}}},
 {"transform":[{"filter":"datum.t=='T'"}],"mark":"rule","encoding":{"x":{"datum":3.5,"axis":null},"x2":{"datum":16.5},"y":{"datum":92.6,"axis":null}}},
 {"transform":[{"filter":"datum.t=='T'"}],"mark":"circle","encoding":{"x":{"datum":10,"axis":null},"y":{"datum":83,"axis":null}}},
 {"transform":[{"filter":"datum.t=='T'"}],"mark":{"type":"text","text":["2024-S","2024-M"],"lineHeight":8.9},"encoding":{"x":{"datum":17.5,"axis":null},"y":{"datum":87.8,"axis":null}}}
]},
{"transform":[{"filter":"datum.r==2 && datum.c==4"}],"width":126.5,"height":102,"layer":[
 {"transform":[{"filter":"datum.t=='S'"}],"mark":"line","encoding":{"x":{"field":"x","type":"quantitative","scale":{"domain":[0,110],"nice":false},"axis":null},"y":{"field":"y","type":"quantitative","scale":{"domain":[0,110],"nice":false},"axis":null}}},
 {"transform":[{"filter":"datum.t=='M'"}],"mark":"circle","encoding":{"x":{"field":"x","type":"quantitative","axis":null},"y":{"field":"y","type":"quantitative","axis":null}}},
 {"transform":[{"filter":"datum.t=='T'"}],"mark":{"type":"text","fontSize":6.8},"encoding":{"x":{"datum":4,"axis":null},"y":{"datum":102.5,"axis":null},"text":{"field":"name"}}},
 {"transform":[{"filter":"datum.t=='T'"}],"mark":"rule","encoding":{"x":{"datum":3.5,"axis":null},"x2":{"datum":16.5},"y":{"datum":92.6,"axis":null}}},
 {"transform":[{"filter":"datum.t=='T'"}],"mark":"circle","encoding":{"x":{"datum":10,"axis":null},"y":{"datum":83,"axis":null}}},
 {"transform":[{"filter":"datum.t=='T'"}],"mark":{"type":"text","text":["2024-S","2024-M"],"lineHeight":8.9},"encoding":{"x":{"datum":17.5,"axis":null},"y":{"datum":87.8,"axis":null}}}
]},
{"transform":[{"filter":"datum.r==3 && datum.c==1"}],"width":126.5,"height":102,"layer":[
 {"transform":[{"filter":"datum.t=='S'"}],"mark":"line","encoding":{"x":{"field":"x","type":"quantitative","scale":{"domain":[0,110],"nice":false},"axis":null},"y":{"field":"y","type":"quantitative","scale":{"domain":[0,110],"nice":false},"axis":{"title":null,"values":[0,20,40,60,80,100]}}}},
 {"transform":[{"filter":"datum.t=='M'"}],"mark":"circle","encoding":{"x":{"field":"x","type":"quantitative","axis":null},"y":{"field":"y","type":"quantitative","axis":{"title":null,"values":[0,20,40,60,80,100]}}}},
 {"transform":[{"filter":"datum.t=='T'"}],"mark":{"type":"text","fontSize":6.8},"encoding":{"x":{"datum":4,"axis":null},"y":{"datum":102.5,"axis":{"title":null,"values":[0,20,40,60,80,100]}},"text":{"field":"name"}}},
 {"transform":[{"filter":"datum.t=='T'"}],"mark":"rule","encoding":{"x":{"datum":3.5,"axis":null},"x2":{"datum":16.5},"y":{"datum":92.6,"axis":{"title":null,"values":[0,20,40,60,80,100]}}}},
 {"transform":[{"filter":"datum.t=='T'"}],"mark":"circle","encoding":{"x":{"datum":10,"axis":null},"y":{"datum":83,"axis":{"title":null,"values":[0,20,40,60,80,100]}}}},
 {"transform":[{"filter":"datum.t=='T'"}],"mark":{"type":"text","text":["2025-S","2025-M"],"lineHeight":8.9},"encoding":{"x":{"datum":17.5,"axis":null},"y":{"datum":87.8,"axis":{"title":null,"values":[0,20,40,60,80,100]}}}}
]},
{"transform":[{"filter":"datum.r==3 && datum.c==2"}],"width":126.5,"height":102,"layer":[
 {"transform":[{"filter":"datum.t=='S'"}],"mark":"line","encoding":{"x":{"field":"x","type":"quantitative","scale":{"domain":[0,110],"nice":false},"axis":null},"y":{"field":"y","type":"quantitative","scale":{"domain":[0,110],"nice":false},"axis":null}}},
 {"transform":[{"filter":"datum.t=='M'"}],"mark":"circle","encoding":{"x":{"field":"x","type":"quantitative","axis":null},"y":{"field":"y","type":"quantitative","axis":null}}},
 {"transform":[{"filter":"datum.t=='T'"}],"mark":{"type":"text","fontSize":6.8},"encoding":{"x":{"datum":4,"axis":null},"y":{"datum":102.5,"axis":null},"text":{"field":"name"}}},
 {"transform":[{"filter":"datum.t=='T'"}],"mark":"rule","encoding":{"x":{"datum":3.5,"axis":null},"x2":{"datum":16.5},"y":{"datum":92.6,"axis":null}}},
 {"transform":[{"filter":"datum.t=='T'"}],"mark":"circle","encoding":{"x":{"datum":10,"axis":null},"y":{"datum":83,"axis":null}}},
 {"transform":[{"filter":"datum.t=='T'"}],"mark":{"type":"text","text":["2025-S","2025-M"],"lineHeight":8.9},"encoding":{"x":{"datum":17.5,"axis":null},"y":{"datum":87.8,"axis":null}}}
]},
{"transform":[{"filter":"datum.r==3 && datum.c==3"}],"width":126.5,"height":102,"layer":[
 {"transform":[{"filter":"datum.t=='S'"}],"mark":"line","encoding":{"x":{"field":"x","type":"quantitative","scale":{"domain":[0,110],"nice":false},"axis":null},"y":{"field":"y","type":"quantitative","scale":{"domain":[0,110],"nice":false},"axis":null}}},
 {"transform":[{"filter":"datum.t=='M'"}],"mark":"circle","encoding":{"x":{"field":"x","type":"quantitative","axis":null},"y":{"field":"y","type":"quantitative","axis":null}}},
 {"transform":[{"filter":"datum.t=='T'"}],"mark":{"type":"text","fontSize":6.8},"encoding":{"x":{"datum":4,"axis":null},"y":{"datum":102.5,"axis":null},"text":{"field":"name"}}},
 {"transform":[{"filter":"datum.t=='T'"}],"mark":"rule","encoding":{"x":{"datum":3.5,"axis":null},"x2":{"datum":16.5},"y":{"datum":92.6,"axis":null}}},
 {"transform":[{"filter":"datum.t=='T'"}],"mark":"circle","encoding":{"x":{"datum":10,"axis":null},"y":{"datum":83,"axis":null}}},
 {"transform":[{"filter":"datum.t=='T'"}],"mark":{"type":"text","text":["2025-S","2025-M"],"lineHeight":8.9},"encoding":{"x":{"datum":17.5,"axis":null},"y":{"datum":87.8,"axis":null}}}
]},
{"transform":[{"filter":"datum.r==3 && datum.c==4"}],"width":126.5,"height":102,"layer":[
 {"transform":[{"filter":"datum.t=='S'"}],"mark":"line","encoding":{"x":{"field":"x","type":"quantitative","scale":{"domain":[0,110],"nice":false},"axis":null},"y":{"field":"y","type":"quantitative","scale":{"domain":[0,110],"nice":false},"axis":null}}},
 {"transform":[{"filter":"datum.t=='M'"}],"mark":"circle","encoding":{"x":{"field":"x","type":"quantitative","axis":null},"y":{"field":"y","type":"quantitative","axis":null}}},
 {"transform":[{"filter":"datum.t=='T'"}],"mark":{"type":"text","fontSize":6.8},"encoding":{"x":{"datum":4,"axis":null},"y":{"datum":102.5,"axis":null},"text":{"field":"name"}}},
 {"transform":[{"filter":"datum.t=='T'"}],"mark":"rule","encoding":{"x":{"datum":3.5,"axis":null},"x2":{"datum":16.5},"y":{"datum":92.6,"axis":null}}},
 {"transform":[{"filter":"datum.t=='T'"}],"mark":"circle","encoding":{"x":{"datum":10,"axis":null},"y":{"datum":83,"axis":null}}},
 {"transform":[{"filter":"datum.t=='T'"}],"mark":{"type":"text","text":["2025-S","2025-M"],"lineHeight":8.9},"encoding":{"x":{"datum":17.5,"axis":null},"y":{"datum":87.8,"axis":null}}}
]},
{"transform":[{"filter":"datum.r==4 && datum.c==1"}],"width":126.5,"height":102,"layer":[
 {"transform":[{"filter":"datum.t=='S'"}],"mark":"line","encoding":{"x":{"field":"x","type":"quantitative","scale":{"domain":[0,110],"nice":false},"axis":{"title":null,"values":[0,20,40,60,80,100]}},"y":{"field":"y","type":"quantitative","scale":{"domain":[0,110],"nice":false},"axis":{"title":null,"values":[0,20,40,60,80,100]}}}},
 {"transform":[{"filter":"datum.t=='M'"}],"mark":"circle","encoding":{"x":{"field":"x","type":"quantitative","axis":{"title":null,"values":[0,20,40,60,80,100]}},"y":{"field":"y","type":"quantitative","axis":{"title":null,"values":[0,20,40,60,80,100]}}}},
 {"transform":[{"filter":"datum.t=='T'"}],"mark":{"type":"text","fontSize":6.8},"encoding":{"x":{"datum":4,"axis":{"title":null,"values":[0,20,40,60,80,100]}},"y":{"datum":102.5,"axis":{"title":null,"values":[0,20,40,60,80,100]}},"text":{"field":"name"}}},
 {"transform":[{"filter":"datum.t=='T'"}],"mark":"rule","encoding":{"x":{"datum":3.5,"axis":{"title":null,"values":[0,20,40,60,80,100]}},"x2":{"datum":16.5},"y":{"datum":92.6,"axis":{"title":null,"values":[0,20,40,60,80,100]}}}},
 {"transform":[{"filter":"datum.t=='T'"}],"mark":"circle","encoding":{"x":{"datum":10,"axis":{"title":null,"values":[0,20,40,60,80,100]}},"y":{"datum":83,"axis":{"title":null,"values":[0,20,40,60,80,100]}}}},
 {"transform":[{"filter":"datum.t=='T'"}],"mark":{"type":"text","text":["2025-S","2025-M"],"lineHeight":8.9},"encoding":{"x":{"datum":17.5,"axis":{"title":null,"values":[0,20,40,60,80,100]}},"y":{"datum":87.8,"axis":{"title":null,"values":[0,20,40,60,80,100]}}}}
]},
{"transform":[{"filter":"datum.r==4 && datum.c==2"}],"width":126.5,"height":102,"layer":[
 {"transform":[{"filter":"datum.t=='S'"}],"mark":"line","encoding":{"x":{"field":"x","type":"quantitative","scale":{"domain":[0,110],"nice":false},"axis":{"title":"Days after transplanting","titleX":126.5,"titleFontSize":12,"values":[0,20,40,60,80,100]}},"y":{"field":"y","type":"quantitative","scale":{"domain":[0,110],"nice":false},"axis":null}}},
 {"transform":[{"filter":"datum.t=='M'"}],"mark":"circle","encoding":{"x":{"field":"x","type":"quantitative","axis":{"title":"Days after transplanting","titleX":126.5,"titleFontSize":12,"values":[0,20,40,60,80,100]}},"y":{"field":"y","type":"quantitative","axis":null}}},
 {"transform":[{"filter":"datum.t=='T'"}],"mark":{"type":"text","fontSize":6.8},"encoding":{"x":{"datum":4,"axis":{"title":"Days after transplanting","titleX":126.5,"titleFontSize":12,"values":[0,20,40,60,80,100]}},"y":{"datum":102.5,"axis":null},"text":{"field":"name"}}},
 {"transform":[{"filter":"datum.t=='T'"}],"mark":"rule","encoding":{"x":{"datum":3.5,"axis":{"title":"Days after transplanting","titleX":126.5,"titleFontSize":12,"values":[0,20,40,60,80,100]}},"x2":{"datum":16.5},"y":{"datum":92.6,"axis":null}}},
 {"transform":[{"filter":"datum.t=='T'"}],"mark":"circle","encoding":{"x":{"datum":10,"axis":{"title":"Days after transplanting","titleX":126.5,"titleFontSize":12,"values":[0,20,40,60,80,100]}},"y":{"datum":83,"axis":null}}},
 {"transform":[{"filter":"datum.t=='T'"}],"mark":{"type":"text","text":["2025-S","2025-M"],"lineHeight":8.9},"encoding":{"x":{"datum":17.5,"axis":{"title":"Days after transplanting","titleX":126.5,"titleFontSize":12,"values":[0,20,40,60,80,100]}},"y":{"datum":87.8,"axis":null}}}
]},
{"transform":[{"filter":"datum.r==4 && datum.c==3"}],"width":126.5,"height":102,"layer":[
 {"transform":[{"filter":"datum.t=='S'"}],"mark":"line","encoding":{"x":{"field":"x","type":"quantitative","scale":{"domain":[0,110],"nice":false},"axis":{"title":null,"values":[0,20,40,60,80,100]}},"y":{"field":"y","type":"quantitative","scale":{"domain":[0,110],"nice":false},"axis":null}}},
 {"transform":[{"filter":"datum.t=='M'"}],"mark":"circle","encoding":{"x":{"field":"x","type":"quantitative","axis":{"title":null,"values":[0,20,40,60,80,100]}},"y":{"field":"y","type":"quantitative","axis":null}}},
 {"transform":[{"filter":"datum.t=='T'"}],"mark":{"type":"text","fontSize":6.8},"encoding":{"x":{"datum":4,"axis":{"title":null,"values":[0,20,40,60,80,100]}},"y":{"datum":102.5,"axis":null},"text":{"field":"name"}}},
 {"transform":[{"filter":"datum.t=='T'"}],"mark":"rule","encoding":{"x":{"datum":3.5,"axis":{"title":null,"values":[0,20,40,60,80,100]}},"x2":{"datum":16.5},"y":{"datum":92.6,"axis":null}}},
 {"transform":[{"filter":"datum.t=='T'"}],"mark":"circle","encoding":{"x":{"datum":10,"axis":{"title":null,"values":[0,20,40,60,80,100]}},"y":{"datum":83,"axis":null}}},
 {"transform":[{"filter":"datum.t=='T'"}],"mark":{"type":"text","text":["2025-S","2025-M"],"lineHeight":8.9},"encoding":{"x":{"datum":17.5,"axis":{"title":null,"values":[0,20,40,60,80,100]}},"y":{"datum":87.8,"axis":null}}}
]},
{"transform":[{"filter":"datum.r==4 && datum.c==4"}],"width":126.5,"height":102,"layer":[
 {"transform":[{"filter":"datum.t=='S'"}],"mark":"line","encoding":{"x":{"field":"x","type":"quantitative","scale":{"domain":[0,110],"nice":false},"axis":{"title":null,"values":[0,20,40,60,80,100]}},"y":{"field":"y","type":"quantitative","scale":{"domain":[0,110],"nice":false},"axis":null}}},
 {"transform":[{"filter":"datum.t=='M'"}],"mark":"circle","encoding":{"x":{"field":"x","type":"quantitative","axis":{"title":null,"values":[0,20,40,60,80,100]}},"y":{"field":"y","type":"quantitative","axis":null}}},
 {"transform":[{"filter":"datum.t=='T'"}],"mark":{"type":"text","fontSize":6.8},"encoding":{"x":{"datum":4,"axis":{"title":null,"values":[0,20,40,60,80,100]}},"y":{"datum":102.5,"axis":null},"text":{"field":"name"}}},
 {"transform":[{"filter":"datum.t=='T'"}],"mark":"rule","encoding":{"x":{"datum":3.5,"axis":{"title":null,"values":[0,20,40,60,80,100]}},"x2":{"datum":16.5},"y":{"datum":92.6,"axis":null}}},
 {"transform":[{"filter":"datum.t=='T'"}],"mark":"circle","encoding":{"x":{"datum":10,"axis":{"title":null,"values":[0,20,40,60,80,100]}},"y":{"datum":83,"axis":null}}},
 {"transform":[{"filter":"datum.t=='T'"}],"mark":{"type":"text","text":["2025-S","2025-M"],"lineHeight":8.9},"encoding":{"x":{"datum":17.5,"axis":{"title":null,"values":[0,20,40,60,80,100]}},"y":{"datum":87.8,"axis":null}}}
]}
],
"config":{
 "view":{"stroke":"#5a5a5a","strokeWidth":1},
 "axis":{"labelFont":"Liberation Serif","labelFontWeight":"bold","labelFontSize":8.5,"labelColor":"#000","domain":false,"tickColor":"#555","tickSize":3,"labelPadding":2,"titleFont":"Liberation Serif","titleFontWeight":"bold","titleFontSize":11.5,"titleColor":"#000","titlePadding":4,"grid":false},
 "line":{"color":"#15998c","strokeWidth":1.6,"interpolate":"monotone"},
 "rule":{"color":"#15998c","strokeWidth":1.6},
 "circle":{"size":26,"color":"#f8a385","stroke":"#ef8262","strokeWidth":0.5,"opacity":1},
 "text":{"font":"Liberation Serif","fontWeight":"bold","color":"#000","align":"left","baseline":"middle","fontSize":7.5}
}
}
